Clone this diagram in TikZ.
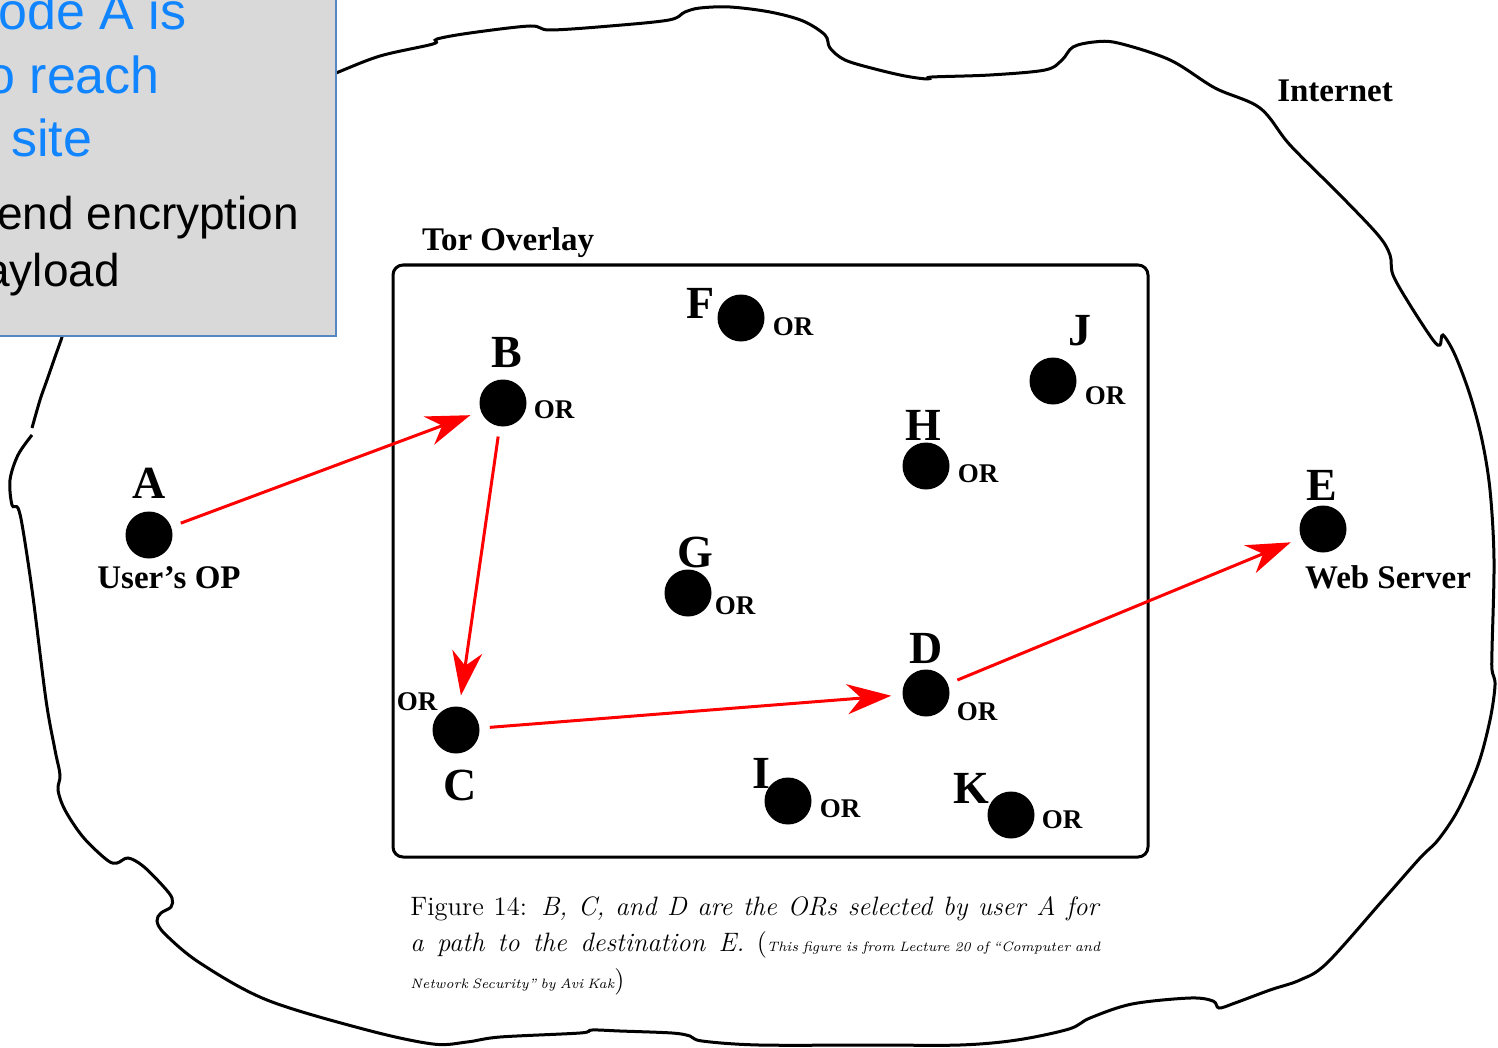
\documentclass[tikz,border=0pt]{standalone}
\usepackage{fontspec}
\newfontfamily\labfont{Liberation Serif}
\newfontfamily\boxfont{Liberation Sans}
\usetikzlibrary{arrows.meta}
\definecolor{slideblue}{RGB}{17,133,255}
\definecolor{boxgray}{RGB}{217,217,217}
\definecolor{boxedge}{RGB}{85,135,195}

\begin{document}
\begin{tikzpicture}[x=0.5pt, y=-0.5pt,
    orb/.style={circle, fill=black, inner sep=0pt, minimum size=23.5pt},
    letter/.style={anchor=base, inner sep=0pt, font=\labfont\bfseries\fontsize{23}{23}\selectfont},
    ortag/.style={anchor=base, inner sep=0pt, font=\labfont\bfseries\fontsize{13.5}{13.5}\selectfont},
    heading/.style={anchor=base, inner sep=0pt, font=\labfont\bfseries\fontsize{16.5}{16.5}\selectfont},
    hop/.style={red, line width=1.5pt, -{Stealth[length=22pt, width=15pt, inset=7pt]},
	shorten <=5pt, shorten >=5.5pt},
    boxline/.style={anchor=base west, inner sep=0pt, font=\boxfont\fontsize{26}{30}\selectfont}]
    \useasboundingbox (0,0) rectangle (1498,1048);
    \clip (0,0) rectangle (1498,1048);

    % the internet cloud
    \draw[line width=1.5pt] plot[smooth, tension=0.55] coordinates {
	(318,80) (336,73) (380,56) (433,44) (437,39) (470,33) (530,26) (550,30)
	(610,26) (669,20) (685,12) (700,8) (730,7) (770,12) (803,21) (825,35)
	(830,48) (845,60) (875,69) (905,76) (927,79) (932,77) (990,75) (1045,70)
	(1062,60) (1073,47) (1094,42) (1118,43) (1170,60) (1215,88) (1260,108)
	(1290,145) (1340,195) (1378,235) (1390,255) (1393,275) (1410,305)
	(1433,340) (1440,345) (1443,335) (1455,355) (1470,395) (1482,440)
	(1490,490) (1494,560) (1492,650) (1492,670) (1495,685) (1490,720)
	(1478,765) (1458,810) (1438,840) (1420,858) (1383,900) (1327,963)
	(1300,980) (1270,990) (1235,1003) (1219,1008) (1213,1001) (1190,998)
	(1132,1004) (1090,1018) (1069,1029) (1017,1040) (960,1045) (874,1045)
	(759,1045) (702,1041) (690,1036) (672,1033) (620,1031) (592,1030)
	(580,1033) (500,1037) (467,1042) (433,1044) (367,1030) (267,1000)
	(200,963) (165,934) (157,921) (161,913) (171,907) (172,898) (163,886)
	(143,866) (128,858) (117,863) (107,860) (83,837) (65,810) (58,790)
	(60,775) (55,750) (46,700) (33,597) (23,530) (18,508) (12,505) (10,480)
	(18,455) (32,435)};
    \draw[line width=1.5pt] plot[smooth, tension=0.55] coordinates {
	(32,428) (40,400) (47,380) (55,357) (62,337) (66,322)};
    \node[heading] (net) at (1335,102) {Internet};

    % slide callout
    \draw[fill=boxgray, draw=boxedge, line width=1pt] (-10,-10) rectangle (336,336);
    \node[boxline, slideblue] (note1) at (-2,30) {ode A is};
    \node[boxline, slideblue] (note2) at (-14,94) {o reach};
    \node[boxline, slideblue] (note3) at (11,157) {site};
    \node[boxline, font=\boxfont\fontsize{23}{28}\selectfont] (note4) at (-3,229) {end encryption};
    \node[boxline, font=\boxfont\fontsize{23}{28}\selectfont] (note5) at (-16,286) {ayload};

    % overlay
    \draw[line width=1.5pt, rounded corners=5pt] (393,265) rectangle (1148,857);
    \node[heading] (tor) at (508,250) {Tor Overlay};

    \node[orb] (A) at (149,535) {};
    \node[orb] (B) at (503,403) {};
    \node[orb] (C) at (456,730) {};
    \node[orb] (D) at (926,693) {};
    \node[orb] (E) at (1323,529) {};
    \node[orb] (F) at (741,318) {};
    \node[orb] (G) at (688,593) {};
    \node[orb] (H) at (926,466) {};
    \node[orb] (I) at (788,801) {};
    \node[orb] (J) at (1053,381) {};
    \node[orb] (K) at (1011,815) {};

    \node[letter] (Aname) at (149,498) {A};
    \node[heading] (Arole) at (169,588) {User’s OP};
    \node[letter] (Bname) at (507,367) {B};
    \node[ortag] (Bor) at (554,418) {OR};
    \node[letter] (Cname) at (460,800) {C};
    \node[ortag] (Cor) at (417,710) {OR};
    \node[letter] (Dname) at (926,663) {D};
    \node[ortag] (Dor) at (977,720) {OR};
    \node[letter] (Ename) at (1322,500) {E};
    \node[heading] (Erole) at (1388,588) {Web Server};
    \node[letter] (Fname) at (701,318) {F};
    \node[ortag] (For) at (793,335) {OR};
    \node[letter] (Gname) at (695,567) {G};
    \node[ortag] (Gor) at (735,614) {OR};
    \node[letter] (Hname) at (923,440) {H};
    \node[ortag] (Hor) at (978,482) {OR};
    \node[letter] (Iname) at (761,788) {I};
    \node[ortag] (Ior) at (840,817) {OR};
    \node[letter] (Jname) at (1080,345) {J};
    \node[ortag] (Jor) at (1105,404) {OR};
    \node[letter] (Kname) at (971,803) {K};
    \node[ortag] (Kor) at (1062,828) {OR};

    % the circuit
    \draw[hop] (A) -- (B);
    \draw[hop] (B) -- (C);
    \draw[hop] (C) -- (D);
    \draw[hop] (D) -- (E);

    \node[anchor=north west, inner sep=0pt, text width=345pt, align=justify,
	font=\fontsize{13.3}{18.2}\selectfont] (cap) at (410,896)
	{Figure 14: \textit{B, C, and D are the ORs selected by user A for}\linebreak
	\textit{a path to the destination E.} ({\fontsize{6.8}{9}\selectfont\itshape
	\spaceskip=0.3em plus 0.05em This figure is from Lecture 20 of “Computer
	and\linebreak Network Security” by Avi Kak})};
\end{tikzpicture}
\end{document}
